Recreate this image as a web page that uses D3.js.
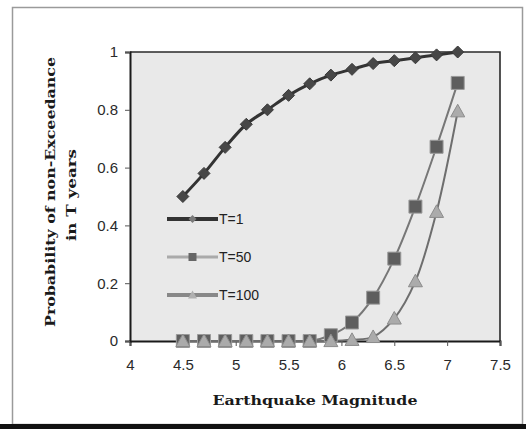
<!DOCTYPE html>
<html>
<head>
<meta charset="utf-8">
<script src="https://cdn.jsdelivr.net/npm/d3@7"></script>
<style>
  html, body { margin: 0; padding: 0; background: #fff; }
  svg { display: block; }
</style>
</head>
<body>
<svg id="chart" width="526" height="429"></svg>
<script>
// Earthquake magnitudes sampled for each curve
const magnitudes = [4.5, 4.7, 4.9, 5.1, 5.3, 5.5, 5.7, 5.9, 6.1, 6.3, 6.5, 6.7, 6.9, 7.1];

// Probability of non-exceedance for each exposure period
const seriesT1   = [0.50, 0.58, 0.67, 0.75, 0.80, 0.85, 0.89, 0.92, 0.94, 0.96, 0.97, 0.98, 0.99, 1.00];
const seriesT50  = [0, 0, 0, 0, 0, 0, 0, 0.02, 0.064, 0.15, 0.285, 0.465, 0.672, 0.893];
const seriesT100 = [0, 0, 0, 0, 0, 0, 0, 0, 0.004, 0.014, 0.078, 0.207, 0.447, 0.795];

const seriesNames = ["T=1", "T=50", "T=100"];

const xTicks = [4, 4.5, 5, 5.5, 6, 6.5, 7, 7.5];
const yTicks = [0, 0.2, 0.4, 0.6, 0.8, 1];

const xTitle = "Earthquake Magnitude";
const yTitleLines = ["Probability of non-Exceedance", "in T years"];

const svg = d3.select("#chart");

// outer frame
svg.append("rect")
  .attr("x", 12.5).attr("y", 7.5).attr("width", 510).attr("height", 417)
  .attr("fill", "#fff").attr("stroke", "#9a9a9a").attr("stroke-width", 1.5);
svg.append("rect")
  .attr("x", 0).attr("y", 424).attr("width", 526).attr("height", 5)
  .attr("fill", "#111");

const plot = { left: 130, right: 500, top: 52, bottom: 341 };

const x = d3.scaleLinear().domain([4, 7.5]).range([plot.left, plot.right]);
const y = d3.scaleLinear().domain([0, 1]).range([plot.bottom, plot.top]);

// plot area background
svg.append("rect")
  .attr("x", plot.left).attr("y", plot.top)
  .attr("width", plot.right - plot.left).attr("height", plot.bottom - plot.top)
  .attr("fill", "#e9e9e9");

// top and right border of the plot area
svg.append("path")
  .attr("d", `M${plot.left},${plot.top}H${plot.right}V${plot.bottom}`)
  .attr("fill", "none").attr("stroke", "#2a2a2a").attr("stroke-width", 1.6);

// axes
const xAxis = d3.axisBottom(x).tickValues(xTicks).tickFormat(d3.format("")).tickSizeOuter(0).tickSize(5).tickPadding(13);
const yAxis = d3.axisLeft(y).tickValues(yTicks).tickFormat(d3.format("")).tickSizeOuter(0).tickSize(5).tickPadding(7);

const gx = svg.append("g").attr("transform", `translate(0,${plot.bottom})`).call(xAxis);
const gy = svg.append("g").attr("transform", `translate(${plot.left},0)`).call(yAxis);

[gx, gy].forEach(g => {
  g.select(".domain").attr("stroke", "#1a1a1a").attr("stroke-width", 2);
  g.selectAll(".tick line").attr("stroke", "#555").attr("stroke-width", 1);
  g.selectAll(".tick text")
    .attr("fill", "#2a2a2a")
    .style("font-family", "'Liberation Sans', Arial, sans-serif")
    .style("font-size", "15px");
});

// series drawing
const line = d3.line()
  .x((d, i) => x(magnitudes[i]))
  .y(d => y(d))
  .curve(d3.curveCatmullRom.alpha(0.5));

const styles = [
  { data: seriesT1,   line: "#333", width: 3,   marker: "diamond",  fill: "#474747", stroke: "#3a3a3a", size: 12 },
  { data: seriesT50,  line: "#777", width: 2,   marker: "square",   fill: "#5e5e5e", stroke: "#9a9a9a", size: 13 },
  { data: seriesT100, line: "#6e6e6e", width: 2, marker: "triangle", fill: "#ababab", stroke: "#8c8c8c", size: 14 }
];

function markerPath(kind, s) {
  const h = s / 2;
  if (kind === "diamond") return `M0,${-h}L${h},0L0,${h}L${-h},0Z`;
  if (kind === "square") return `M${-h},${-h}H${h}V${h}H${-h}Z`;
  return `M0,${-h}L${h},${h * 0.8}H${-h}Z`;
}

styles.forEach(st => {
  svg.append("path")
    .datum(st.data)
    .attr("d", line)
    .attr("fill", "none")
    .attr("stroke", st.line)
    .attr("stroke-width", st.width);
});

styles.forEach(st => {
  svg.append("g").selectAll("path")
    .data(st.data)
    .join("path")
    .attr("transform", (d, i) => `translate(${x(magnitudes[i])},${y(d)})`)
    .attr("d", markerPath(st.marker, st.size))
    .attr("fill", st.fill)
    .attr("stroke", st.stroke)
    .attr("stroke-width", 1);
});

// legend
const legendStyles = [
  { line: "#333", width: 4, fill: "#7a7a7a", size: 8 },
  { line: "#aaa", width: 3, fill: "#666", size: 8 },
  { line: "#888", width: 4, fill: "#b0b0b0", size: 9 }
];
const legend = svg.append("g");
seriesNames.forEach((name, i) => {
  const ly = 219 + i * 38;
  const g = legend.append("g").attr("transform", `translate(167,${ly})`);
  g.append("line").attr("x1", 0).attr("x2", 51).attr("y1", 0).attr("y2", 0)
    .attr("stroke", legendStyles[i].line).attr("stroke-width", legendStyles[i].width);
  g.append("path")
    .attr("transform", "translate(25.5,0)")
    .attr("d", markerPath(styles[i].marker, legendStyles[i].size))
    .attr("fill", legendStyles[i].fill)
    .attr("stroke", "none");
  g.append("text")
    .attr("x", 52).attr("y", 5)
    .attr("fill", "#222")
    .style("font-family", "'Liberation Sans', Arial, sans-serif")
    .style("font-size", "14px")
    .text(name);
});

// axis titles
svg.append("text")
  .attr("x", 315).attr("y", 405)
  .attr("text-anchor", "middle")
  .attr("fill", "#1a1a1a")
  .attr("textLength", 205).attr("lengthAdjust", "spacingAndGlyphs")
  .style("font-family", "'DejaVu Serif', serif")
  .style("font-weight", "bold")
  .style("font-size", "12px")
  .text(xTitle);

const yTitleX = [51, 72];
const yTitleLen = [270, 92];
yTitleLines.forEach((t, i) => {
  svg.append("text")
    .attr("transform", `translate(${yTitleX[i] + 4},${i === 0 ? 192 : 195}) rotate(-90)`)
    .attr("text-anchor", "middle")
    .attr("fill", "#1a1a1a")
    .attr("textLength", yTitleLen[i]).attr("lengthAdjust", "spacingAndGlyphs")
    .style("font-family", "'DejaVu Serif', serif")
    .style("font-weight", "bold")
    .style("font-size", "12px")
    .text(t);
});
</script>
</body>
</html>
